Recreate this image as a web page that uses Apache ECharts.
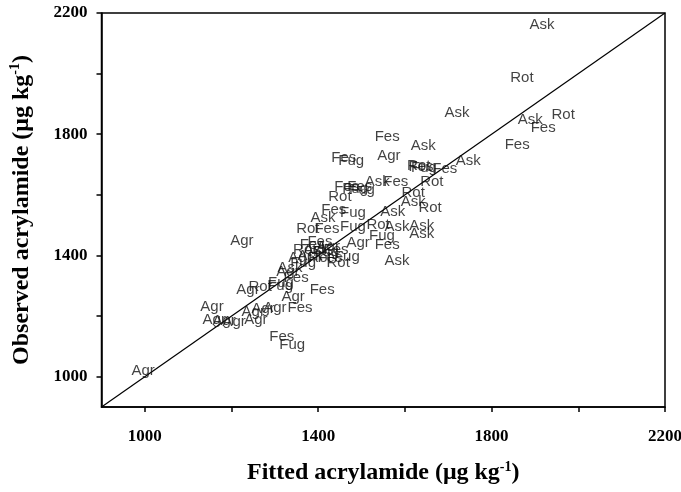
<!DOCTYPE html>
<html>
<head>
<meta charset="utf-8">
<script src="https://cdn.jsdelivr.net/npm/echarts@6/dist/echarts.min.js"></script>
<style>
  html, body { margin: 0; padding: 0; background: #fff; }
  #content { width: 681px; height: 492px; }
</style>
</head>
<body>
<div id="content"></div>
<script>
// fitted (x) and observed (y) acrylamide per sample group
const askFitted   = [1916, 1720, 1889, 1642, 1746, 1536, 1619, 1572, 1411, 1582, 1639, 1639, 1582, 1395, 1381, 1335];
const askObserved = [2161, 1871, 1848, 1762, 1712, 1643, 1577, 1544, 1524, 1494, 1498, 1471, 1382, 1418, 1399, 1359];

const rotFitted   = [1870, 1965, 1632, 1662, 1450, 1619, 1658, 1376, 1538, 1369, 1404, 1446, 1266];
const rotObserved = [1986, 1864, 1696, 1643, 1593, 1607, 1557, 1488, 1501, 1418, 1392, 1375, 1296];

const fesFitted   = [1919, 1859, 1559, 1459, 1637, 1692, 1579, 1466, 1496, 1436, 1420, 1404, 1559, 1441, 1386, 1427, 1349, 1409, 1358, 1316];
const fesObserved = [1821, 1765, 1792, 1722, 1692, 1686, 1643, 1626, 1626, 1550, 1488, 1445, 1435, 1418, 1435, 1392, 1326, 1286, 1227, 1131];

const fugFitted   = [1476, 1644, 1485, 1501, 1480, 1480, 1547, 1418, 1466, 1365, 1314, 1312, 1340];
const fugObserved = [1712, 1689, 1620, 1617, 1541, 1494, 1465, 1412, 1395, 1375, 1309, 1300, 1105];

const agrFitted   = [1563, 1492, 1224, 1423, 1358, 1330, 1238, 1342, 1155, 1273, 1250, 1300, 1160, 1206, 1256, 1183, 996];
const agrObserved = [1729, 1442, 1448, 1428, 1392, 1346, 1286, 1263, 1230, 1224, 1214, 1227, 1187, 1181, 1187, 1184, 1019];

const lineX = [900, 2200];
const lineY = [900, 2200];

const xTicks = [1000, 1200, 1400, 1600, 1800, 2000, 2200];
const xLabels = [1000, 1400, 1800, 2200];
const yTicks = [1000, 1200, 1400, 1600, 1800, 2000, 2200];
const yLabels = [1000, 1400, 1800, 2200];

const groups = [
  ['Ask', askFitted, askObserved],
  ['Rot', rotFitted, rotObserved],
  ['Fes', fesFitted, fesObserved],
  ['Fug', fugFitted, fugObserved],
  ['Agr', agrFitted, agrObserved]
];

const chart = echarts.init(document.getElementById('content'));

const titleRich = {
  a: { fontFamily: 'Liberation Serif', fontWeight: 'bold', fontSize: 24, color: '#000' },
  s: { fontFamily: 'Liberation Serif', fontWeight: 'bold', fontSize: 14, color: '#000', verticalAlign: 'top', padding: [0, 0, 12, 0] }
};

function makeAxis(min, max, ticks, labels, name, gap, labelMargin) {
  return {
    type: 'value',
    min: min,
    max: max,
    name: name,
    nameLocation: 'middle',
    nameGap: gap,
    nameTextStyle: { rich: titleRich },
    splitLine: { show: false },
    axisLine: { lineStyle: { color: '#000', width: 1.5 } },
    axisTick: { show: true, length: 5, customValues: ticks, lineStyle: { color: '#000', width: 1.5 } },
    axisLabel: {
      customValues: labels,
      formatter: function (v) { return String(v); },
      fontFamily: 'Liberation Serif',
      fontWeight: 'bold',
      fontSize: 17,
      color: '#000',
      margin: labelMargin
    }
  };
}

const series = groups.map(function (g) {
  return {
    name: g[0],
    type: 'scatter',
    symbol: 'circle',
    symbolSize: 1,
    itemStyle: { color: 'transparent' },
    data: g[1].map(function (v, i) { return [v, g[2][i]]; }),
    label: {
      show: true,
      position: 'inside',
      formatter: g[0],
      fontFamily: 'Liberation Sans',
      fontSize: 15,
      color: '#111'
    },
    z: 3
  };
});

series.push({
  name: 'line',
  type: 'line',
  data: lineX.map(function (v, i) { return [v, lineY[i]]; }),
  showSymbol: false,
  lineStyle: { color: '#000', width: 1.2 },
  z: 2
});

chart.setOption({
  animation: false,
  grid: {
    left: 101.5, right: 16, top: 13, bottom: 85,
    outerBoundsMode: 'none',
    containLabel: false,
    show: true, borderColor: '#000', borderWidth: 1.5
  },
  xAxis: makeAxis(900, 2200, xTicks, xLabels, '{a|Fitted acrylamide (μg kg}{s|-1}{a|)}', 53, 21),
  yAxis: makeAxis(900, 2200, yTicks, yLabels, '{a|Observed acrylamide (μg kg}{s|-1}{a|)}', 67, 14),
  series: series
});
</script>
</body>
</html>
